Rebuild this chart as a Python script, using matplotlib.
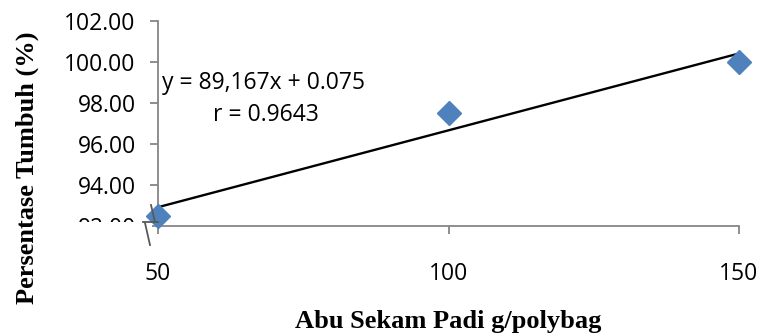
import numpy as np
import matplotlib.pyplot as plt
from matplotlib.patches import Rectangle

abu_sekam = [50, 100, 150]
persentase = [92.5, 97.5, 100.0]
y_ticks = [92, 94, 96, 98, 100, 102]
x_ticks = [50, 100, 150]

axis_col = '#868686'

fig = plt.figure(figsize=(7.61, 3.36), dpi=100)
ax = fig.add_axes([158 / 761, 1 - 226 / 336, (739 - 158) / 761, 205 / 336])

# trendline (linear fit)
k, b = np.polyfit(abu_sekam, persentase, 1)
xs = np.array([abu_sekam[0], abu_sekam[-1]])
ax.plot(xs, k * xs + b, color='black', lw=1.7, clip_on=False, zorder=2)

ax.plot(abu_sekam, persentase, 'D', color='#4F81BD', ms=12.5, mec='#4F81BD',
        clip_on=False, zorder=3)

ax.set_xlim(50, 150)
ax.set_ylim(92, 102)
ax.set_xticks(x_ticks)
ax.set_yticks(y_ticks)
ax.set_yticklabels([f'{v:.2f}' for v in y_ticks])

for s in ['top', 'right']:
    ax.spines[s].set_visible(False)
for s in ['left', 'bottom']:
    ax.spines[s].set_color(axis_col)
    ax.spines[s].set_linewidth(1.3)

ax.tick_params(axis='y', direction='out', length=6, width=1.3, color=axis_col,
               labelsize=16.5, pad=10)
ax.tick_params(axis='x', direction='out', length=6, width=1.3, color=axis_col,
               labelsize=16.5, pad=20)
for lab in ax.get_xticklabels() + ax.get_yticklabels():
    lab.set_fontfamily('Open Sans')

# white box hiding the lower part of the 92 label
fig.patches.append(Rectangle((55 / 761, 1 - 250 / 336), 97 / 761, 28 / 336,
                             transform=fig.transFigure, facecolor='white',
                             edgecolor='none', zorder=5))

# axis break mark
brk = '#595959'
fig.add_artist(plt.Line2D([151 / 761, 155 / 761], [1 - 205 / 336, 1 - 222 / 336],
                          color=brk, lw=1.3, zorder=6))
fig.add_artist(plt.Line2D([143 / 761, 158 / 761], [1 - 222 / 336, 1 - 222 / 336],
                          color=brk, lw=1.3, zorder=6))
fig.add_artist(plt.Line2D([145 / 761, 150 / 761], [1 - 223 / 336, 1 - 245 / 336],
                          color=brk, lw=1.3, zorder=6))

ax.text(50.7, 98.98, 'y = 89,167x + 0.075', fontsize=16.5, family='Open Sans',
        va='center', ha='left')
ax.text(68.6, 97.41, 'r = 0.9643', fontsize=16.5, family='Open Sans',
        va='center', ha='center')

ax.set_xlabel('Abu Sekam Padi g/polybag', fontsize=19, fontweight='bold',
              family='Liberation Serif', labelpad=17)
fig.text(27 / 761, 1 - 168 / 336, 'Persentase Tumbuh (%)', fontsize=19,
         fontweight='bold', family='Liberation Serif', rotation=90,
         ha='center', va='center')

fig.savefig('out.png', dpi=100)
